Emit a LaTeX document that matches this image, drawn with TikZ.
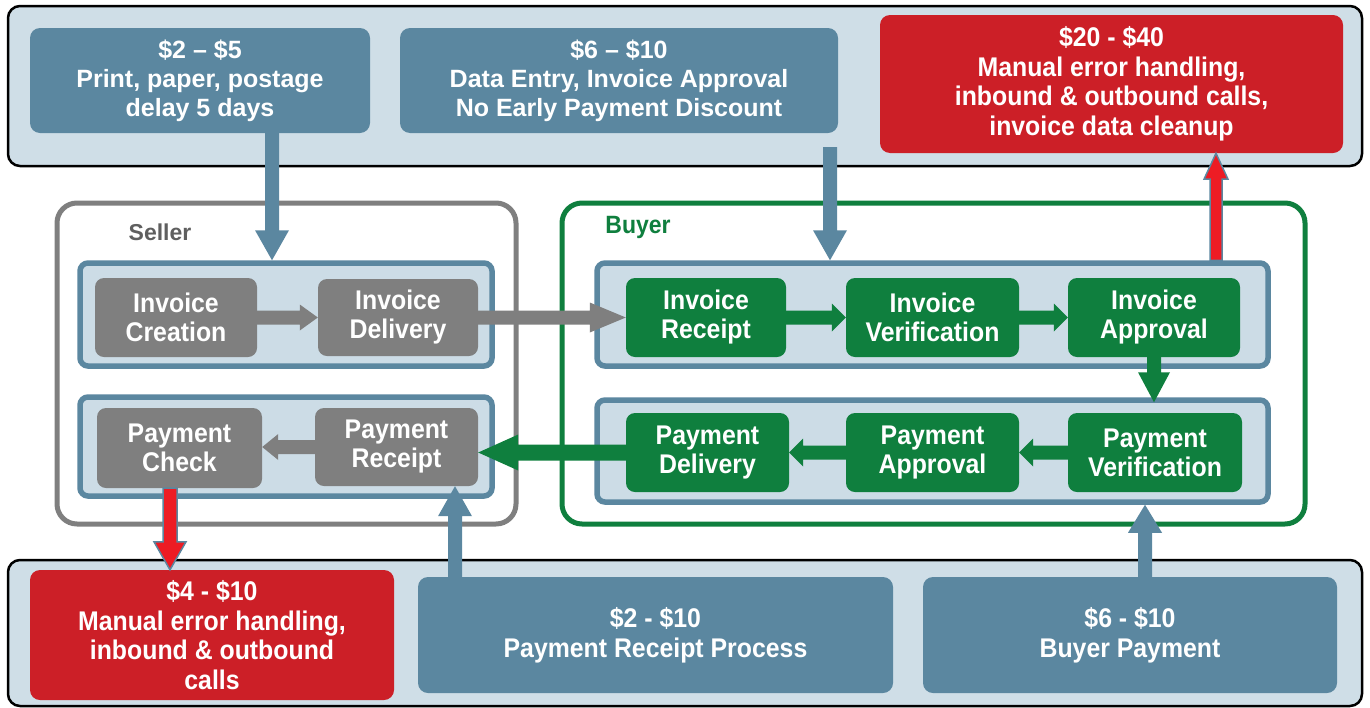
\documentclass[tikz,border=0pt]{standalone}
\usepackage{fontspec}
\setmainfont{Liberation Sans}
\newfontfamily\narrowsans{Liberation Sans}[FakeStretch=0.92]
\usetikzlibrary{calc}

\definecolor{steel}{HTML}{5B87A0}
\definecolor{bandfill}{HTML}{CFDEE7}
\definecolor{groupfill}{HTML}{CCDCE6}
\definecolor{alertred}{HTML}{CC1F27}
\definecolor{arrowred}{HTML}{ED1C24}
\definecolor{buyergreen}{HTML}{0F7F3E}
\definecolor{sellergray}{HTML}{7F7F7F}
\definecolor{labelgray}{HTML}{5F5F5F}

% block arrow, horizontal: style, start, tip, shaft half width, head half width, head length
\newcommand\harrow[6][]{%
  \path[#1] let \p1=(#2), \p2=(#3), \n1={\x2-sign(\x2-\x1)*(#6)} in
    (\x1,\y1+#4) -- (\n1,\y1+#4) -- (\n1,\y1+#5) -- (\x2,\y1)
    -- (\n1,\y1-#5) -- (\n1,\y1-#4) -- (\x1,\y1-#4) -- cycle;}
% block arrow, vertical
\newcommand\varrow[6][]{%
  \path[#1] let \p1=(#2), \p2=(#3), \n1={\y2-sign(\y2-\y1)*(#6)} in
    (\x1+#4,\y1) -- (\x1+#4,\n1) -- (\x1+#5,\n1) -- (\x1,\y2)
    -- (\x1-#5,\n1) -- (\x1-#4,\n1) -- (\x1-#4,\y1) -- cycle;}

\tikzset{
  wh/.style 2 args={minimum width=#1pt, minimum height=#2pt, inner sep=0pt},
  band/.style={draw=black, line width=2.5pt, fill=bandfill, rounded corners=12pt},
  costbox/.style={fill=steel, rounded corners=10pt, text=white, align=center,
    font=\fontsize{25}{29}\selectfont\bfseries},
  costnarrow/.style={fill=steel, rounded corners=10pt, text=white, align=center,
    font=\narrowsans\fontsize{27}{30}\selectfont\bfseries},
  alertbox/.style={fill=alertred, rounded corners=10pt, text=white, align=center,
    font=\narrowsans\fontsize{27}{29.5}\selectfont\bfseries},
  container/.style={line width=5pt, fill=white, rounded corners=20pt},
  group/.style={draw=steel, line width=5.5pt, fill=groupfill, rounded corners=8pt},
  sellerstep/.style={fill=sellergray, rounded corners=9pt, text=white, align=center,
    font=\narrowsans\fontsize{27}{29}\selectfont\bfseries},
  buyerstep/.style={fill=buyergreen, rounded corners=9pt, text=white, align=center,
    font=\narrowsans\fontsize{27}{29}\selectfont\bfseries},
  bluearrow/.style={fill=steel},
  redarrow/.style={fill=arrowred, draw=steel, line width=1.5pt},
  grayarrow/.style={fill=sellergray},
  greenarrow/.style={fill=buyergreen},
}

\begin{document}
\begin{tikzpicture}[x=1pt, y=-1pt]
\useasboundingbox (0,0) rectangle (1370,707);

% cost bands
\node[band, wh={1354}{160}] (top) at (685,86) {};
\node[band, wh={1354}{146}] (bottom) at (685,633) {};

% upper cost boxes
\node[costbox, wh={340}{105}] (b1) at (200,80.5) {\$2 – \$5\\Print, paper, postage\\delay 5 days};
\node[costbox, wh={438}{105}] (b2) at (619,80.5) {\$6 – \$10\\Data Entry, Invoice Approval\\No Early Payment Discount};
\node[alertbox, wh={463}{138}] (b3) at (1111.5,84) {\$20 - \$40\\Manual error handling,\\inbound \& outbound calls,\\invoice data cleanup};

% lower cost boxes
\node[alertbox, wh={364}{130}] (b4) at (212,635) {\$4 - \$10\\Manual error handling,\\inbound \& outbound\\calls};
\node[costnarrow, wh={475}{116}] (b5) at (655.5,635) {\$2 - \$10\\Payment Receipt Process};
\node[costnarrow, wh={414}{116}] (b6) at (1130,635) {\$6 - \$10\\Buyer Payment};

% parties
\node[container, draw=sellergray, wh={459}{321}] (seller) at (286.5,363.5) {};
\node[container, draw=buyergreen, wh={743}{321}] (buyer) at (933.5,363.5) {};
\node[text=labelgray, font=\fontsize{23}{26}\selectfont\bfseries] (sellerlabel) at (160,232) {Seller};
\node[text=buyergreen, font=\narrowsans\fontsize{25}{28}\selectfont\bfseries] (buyerlabel) at (638,227) {Buyer};

% process groups
\node[group, wh={412}{103}] (sinv) at (286,314.5) {};
\node[group, wh={412}{99}] (spay) at (286,446.5) {};
\node[group, wh={671}{103}] (binv) at (932.5,314.5) {};
\node[group, wh={671}{102}] (bpay) at (932.5,451) {};

% seller steps
\node[sellerstep, wh={162}{79}] (ic) at (176,317.5) {Invoice\\Creation};
\node[sellerstep, wh={160}{77}] (id) at (398,317.5) {Invoice\\Delivery};
\node[sellerstep, wh={165}{80}] (pc) at (179.5,448) {Payment\\Check};
\node[sellerstep, wh={163}{78}] (pr) at (396.5,447) {Payment\\Receipt};

% buyer steps
\node[buyerstep, wh={160}{79}] (ir) at (706,317.5) {Invoice\\Receipt};
\node[buyerstep, wh={173}{79}] (iv) at (932.5,317.5) {Invoice\\Verification};
\node[buyerstep, wh={172}{79}] (ia) at (1154,317.5) {Invoice\\Approval};
\node[buyerstep, wh={163}{79}] (pd) at (707.5,452.5) {Payment\\Delivery};
\node[buyerstep, wh={173}{79}] (pa) at (932.5,452.5) {Payment\\Approval};
\node[buyerstep, wh={174}{79}] (pv) at (1155,452.5) {Payment\\Verification};

% process flow
\harrow[grayarrow]{ic.east}{id.west}{7pt}{13pt}{18pt}
\harrow[grayarrow]{id.east}{ir.west}{7pt}{15pt}{36pt}
\harrow[greenarrow]{ir.east}{iv.west}{7pt}{14pt}{14pt}
\harrow[greenarrow]{iv.east}{ia.west}{7pt}{14pt}{14pt}
\varrow[greenarrow]{ia.south}{[yshift=-5pt]bpay.north}{7pt}{16pt}{30pt}
\harrow[greenarrow]{pv.west}{pa.east}{7pt}{14pt}{14pt}
\harrow[greenarrow]{pa.west}{pd.east}{7pt}{14pt}{14pt}
\harrow[greenarrow]{pd.west}{pr.east}{8pt}{18pt}{40pt}
\harrow[grayarrow]{pr.west}{pc.east}{7pt}{13pt}{16pt}

% cost links
\varrow[bluearrow]{[xshift=72pt]b1.south}{sinv.north}{7pt}{17pt}{30pt}
\varrow[bluearrow]{[xshift=211pt,yshift=-14pt]b2.south}{binv.north}{7pt}{17pt}{30pt}
\varrow[redarrow]{[xshift=283.5pt]binv.north}{b3.south}{6pt}{12pt}{26pt}
\varrow[redarrow]{[xshift=-9.5pt]pc.south}{b4.north}{7pt}{16pt}{28pt}
\varrow[bluearrow]{[xshift=-200.5pt]b5.north}{pr.south}{7pt}{17pt}{30pt}
\varrow[bluearrow]{[xshift=15pt]b6.north}{bpay.south}{7pt}{17pt}{28pt}
\end{tikzpicture}
\end{document}
